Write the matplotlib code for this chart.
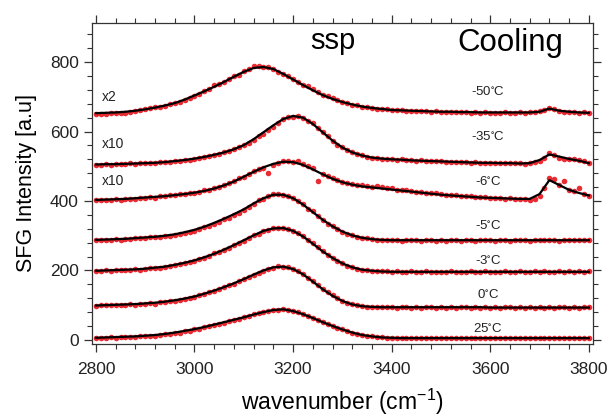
import numpy as np
import matplotlib
matplotlib.use("Agg")
import matplotlib.pyplot as plt
from matplotlib.ticker import MultipleLocator

plt.rcParams['font.family'] = ['Liberation Sans', 'DejaVu Sans']
plt.rcParams['mathtext.default'] = 'regular'

# wavenumber grids: measured points every 10, fit curve every 20 cm-1
wn_dots = np.arange(2800, 3801, 10)
wn_fit = np.arange(2800, 3801, 20)

temps = ['-50', '-35', '-6', '-5', '-3', '0', '25']

# ---- measured data (red dots), offset as in the figure ----
dots_m50 = [650, 651, 651, 652, 652, 653, 654, 656, 658, 661,
            664, 667, 670, 672, 674, 678, 681, 686, 692, 696,
            703, 709, 717, 722, 735, 736, 744, 752, 760, 764,
            774, 780, 788, 789, 787, 786, 781, 771, 766, 760,
            752, 742, 735, 731, 722, 715, 706, 701, 697, 690,
            684, 682, 677, 676, 672, 670, 669, 666, 665, 664,
            662, 663, 661, 660, 660, 659, 660, 658, 657, 658,
            656, 657, 655, 656, 655, 656, 654, 655, 654, 655,
            654, 653, 654, 655, 654, 653, 655, 654, 655, 656,
            658, 662, 668, 665, 659, 655, 657, 656, 654, 655,
            653]
dots_m35 = [504, 505, 506, 505, 507, 506, 507, 508, 507, 509,
            509, 510, 509, 511, 512, 513, 514, 516, 517, 519,
            521, 524, 526, 530, 533, 536, 541, 545, 550, 556,
            560, 568, 577, 588, 594, 604, 613, 625, 635, 642,
            643, 646, 640, 631, 624, 611, 600, 588, 574, 562,
            555, 547, 540, 535, 532, 528, 524, 524, 522, 520,
            520, 519, 522, 518, 517, 516, 517, 515, 514, 516,
            514, 513, 512, 513, 511, 512, 510, 511, 510, 509,
            510, 509, 510, 508, 509, 508, 509, 507, 509, 511,
            516, 524, 537, 533, 525, 522, 521, 520, 518, 514,
            508]
dots_m6 = [402, 403, 404, 403, 405, 404, 406, 405, 407, 408,
           409, 411, 410, 413, 414, 416, 417, 419, 421, 423,
           422, 427, 431, 433, 437, 441, 446, 452, 458, 466,
           469, 477, 487, 491, 494, 480, 503, 508, 514, 516,
           512, 515, 506, 500, 494, 458, 478, 473, 466, 460,
           456, 451, 449, 446, 445, 443, 441, 442, 440, 437,
           436, 433, 431, 432, 429, 426, 427, 424, 422, 423,
           419, 418, 417, 416, 415, 414, 413, 412, 411, 412,
           410, 409, 409, 407, 408, 406, 407, 405, 404, 407,
           414, 436, 466, 463, 446, 457, 432, 428, 438, 420,
           413]
dots_m5 = [287, 288, 289, 288, 290, 289, 291, 290, 292, 293,
           294, 296, 295, 297, 299, 300, 302, 305, 307, 311,
           315, 320, 324, 329, 335, 339, 347, 352, 360, 364,
           374, 384, 391, 402, 407, 413, 420, 419, 417, 414,
           409, 400, 392, 378, 370, 356, 345, 335, 328, 319,
           312, 306, 302, 297, 294, 292, 291, 289, 288, 288,
           287, 288, 286, 287, 288, 287, 286, 288, 287, 286,
           287, 286, 288, 287, 286, 287, 288, 286, 287, 288,
           287, 286, 287, 288, 286, 287, 288, 287, 286, 288,
           289, 288, 287, 288, 286, 288, 287, 288, 287, 288,
           288]
dots_m3 = [198, 199, 200, 199, 201, 200, 202, 201, 203, 202,
           204, 206, 207, 208, 210, 212, 215, 218, 221, 224,
           227, 232, 237, 242, 249, 253, 260, 266, 274, 279,
           286, 292, 302, 306, 314, 317, 321, 323, 322, 320,
           315, 308, 299, 288, 278, 267, 255, 245, 236, 228,
           220, 214, 209, 205, 202, 200, 199, 198, 197, 197,
           196, 197, 195, 196, 197, 196, 195, 197, 196, 195,
           196, 195, 197, 196, 195, 196, 197, 195, 196, 197,
           196, 195, 196, 197, 195, 196, 197, 196, 195, 197,
           196, 197, 196, 195, 197, 196, 197, 196, 197, 196,
           197]
dots_0 = [98, 99, 100, 99, 101, 100, 101, 102, 101, 103,
          104, 105, 104, 108, 109, 111, 113, 116, 118, 122,
          124, 128, 132, 137, 141, 147, 151, 158, 162, 170,
          174, 181, 188, 193, 199, 204, 208, 212, 211, 209,
          205, 198, 189, 178, 169, 157, 147, 137, 128, 121,
          113, 107, 103, 99, 97, 96, 95, 94, 95, 94,
          94, 93, 94, 95, 93, 94, 93, 94, 95, 93,
          94, 93, 94, 93, 95, 94, 93, 94, 93, 94,
          93, 94, 93, 95, 94, 93, 94, 93, 94, 93,
          94, 93, 94, 93, 94, 95, 93, 94, 93, 94,
          94]
dots_25 = [5, 6, 6, 7, 6, 7, 8, 9, 8, 10,
           11, 12, 11, 15, 16, 17, 20, 21, 25, 26,
           30, 32, 36, 39, 44, 46, 50, 55, 58, 61,
           66, 69, 74, 77, 80, 84, 87, 86, 89, 87,
           83, 80, 75, 69, 63, 58, 51, 45, 40, 35,
           30, 25, 21, 17, 14, 11, 10, 8, 7, 6,
           6, 5, 6, 4, 5, 6, 5, 4, 5, 6,
           5, 4, 6, 5, 4, 5, 6, 5, 4, 5,
           6, 5, 4, 5, 6, 5, 4, 5, 6, 5,
           4, 5, 6, 5, 4, 6, 5, 4, 5, 6,
           5]

# ---- fitted curves (black lines) ----
fit_m50 = [653, 654, 655, 657, 660, 664, 669, 675, 682, 692,
           704, 716, 729, 743, 758, 772, 783, 786, 780, 766,
           750, 734, 719, 705, 694, 685, 678, 672, 668, 665,
           662, 661, 660, 659, 658, 657, 657, 656, 656, 655,
           655, 655, 655, 655, 655, 657, 666, 660, 657, 655,
           654]
fit_m35 = [505, 506, 506, 507, 508, 509, 510, 512, 515, 518,
           522, 527, 533, 540, 549, 561, 578, 598, 618, 636,
           645, 640, 622, 598, 574, 554, 540, 531, 525, 522,
           520, 519, 517, 516, 515, 514, 513, 512, 511, 510,
           510, 509, 509, 508, 509, 518, 534, 528, 521, 516,
           509]
fit_m6 = [403, 404, 405, 406, 408, 410, 412, 414, 417, 420,
          424, 429, 436, 445, 456, 470, 484, 497, 507, 513,
          512, 504, 491, 477, 464, 454, 447, 442, 439, 436,
          433, 430, 427, 424, 421, 418, 416, 414, 412, 410,
          409, 408, 407, 406, 406, 420, 460, 446, 432, 423,
          416]
fit_m5 = [288, 289, 290, 291, 293, 295, 297, 300, 304, 310,
          317, 326, 337, 349, 362, 376, 393, 408, 418, 418,
          408, 390, 368, 346, 327, 312, 301, 294, 290, 288,
          287, 287, 287, 287, 287, 287, 287, 287, 287, 287,
          287, 287, 287, 287, 287, 287, 287, 287, 287, 287,
          287]
fit_m3 = [199, 200, 201, 202, 203, 205, 208, 211, 216, 222,
          229, 238, 248, 260, 273, 287, 301, 314, 321, 322,
          314, 298, 277, 255, 236, 220, 209, 202, 199, 197,
          196, 196, 196, 196, 196, 196, 196, 196, 196, 196,
          196, 196, 196, 196, 196, 196, 196, 196, 196, 196,
          196]
fit_0 = [99, 100, 101, 102, 103, 105, 107, 110, 114, 119,
         125, 133, 142, 152, 163, 175, 188, 200, 209, 211,
         204, 189, 168, 146, 127, 112, 102, 97, 95, 94,
         94, 94, 94, 94, 94, 94, 94, 94, 94, 94,
         93, 93, 93, 93, 93, 93, 93, 93, 93, 93,
         93]
fit_25 = [6, 7, 8, 9, 10, 12, 14, 17, 21, 26,
          31, 37, 44, 51, 58, 65, 73, 80, 86, 88,
          83, 74, 63, 51, 40, 30, 21, 14, 10, 7,
          6, 5, 5, 5, 5, 5, 5, 5, 5, 5,
          5, 5, 5, 5, 5, 5, 5, 5, 5, 5,
          5]

all_dots = [dots_m50, dots_m35, dots_m6, dots_m5, dots_m3, dots_0, dots_25]
all_fits = [fit_m50, fit_m35, fit_m6, fit_m5, fit_m3, fit_0, fit_25]

# label positions (intensity)
temp_y = [714, 587, 456, 330, 230, 132, 32]
scale_labels = ['x2', 'x10', 'x10']
scale_y = [700, 564, 459]

fig = plt.figure(figsize=(6.13, 4.16), dpi=100)
ax = fig.add_axes([0.150, 0.173, 0.817, 0.772])

for d, f in zip(all_dots, all_fits):
    ax.plot(wn_dots, d, 'o', color='#e8141c', ms=4, mec='none', alpha=0.9)
    ax.plot(wn_fit, f, '-', color='black', lw=1.6)

for t, y in zip(temps, temp_y):
    ax.text(3595, y, t + r'$^{\circ}$C', fontsize=9.5, ha='center', va='center',
            color='#222222')
for s, y in zip(scale_labels, scale_y):
    ax.text(2812, y, s, fontsize=10, ha='left', va='center', color='#222222')

ax.text(3280, 860, 'ssp', fontsize=21, ha='center', va='center')
ax.text(3640, 855, 'Cooling', fontsize=22.5, ha='center', va='center')

ax.set_xlim(2792, 3808)
ax.set_ylim(-12, 913)
ax.xaxis.set_major_locator(MultipleLocator(200))
ax.xaxis.set_minor_locator(MultipleLocator(40))
ax.yaxis.set_major_locator(MultipleLocator(200))
ax.yaxis.set_minor_locator(MultipleLocator(40))
ax.tick_params(which='both', direction='out', top=True, right=True,
               color='#333333', labelsize=12.5, labelcolor='#222222')
ax.tick_params(which='major', length=6, width=0.9)
ax.tick_params(which='minor', length=3.5, width=0.8)
ax.tick_params(axis='x', which='major', pad=7)
for sp in ax.spines.values():
    sp.set_color('#333333')
    sp.set_linewidth(0.9)

ax.set_xlabel('wavenumber (cm$^{-1}$)', fontsize=16.5, labelpad=7)
ax.set_ylabel('SFG Intensity [a.u]', fontsize=15.5, labelpad=9)

fig.savefig('out.png', dpi=100)
